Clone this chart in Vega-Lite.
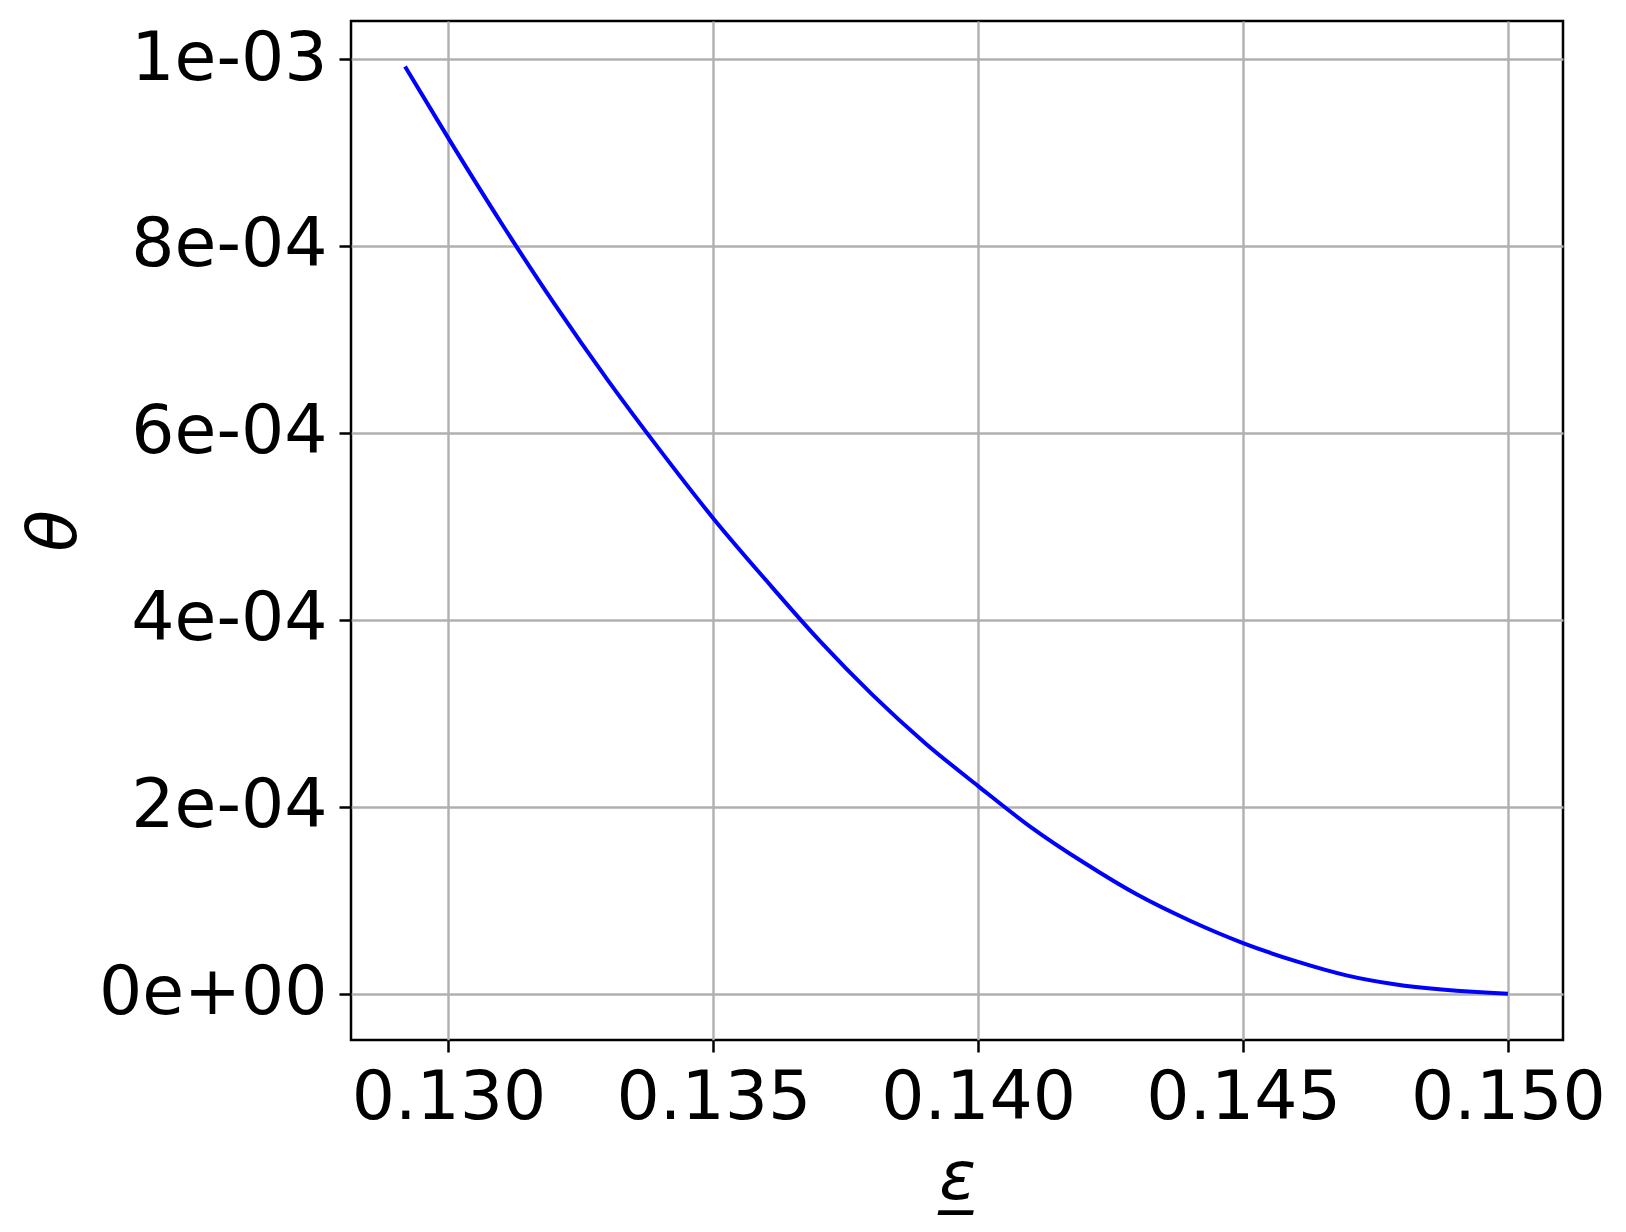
{
  "$schema": "https://vega.github.io/schema/vega-lite/v6.json",
  "autosize": "none",
  "width": 1212,
  "height": 1019,
  "padding": {"left": 351, "top": 21, "right": 63, "bottom": 192},
  "background": "white",
  "config": {
    "view": {"stroke": "black", "strokeWidth": 2.5},
    "axis": {
      "labelFont": "DejaVu Sans",
      "titleFont": "DejaVu Sans",
      "labelFontSize": 68,
      "titleFontSize": 68,
      "labelLimit": 0,
      "labelColor": "black",
      "titleColor": "black",
      "titleFontWeight": "normal",
      "grid": true,
      "gridColor": "#b0b0b0",
      "gridWidth": 2.4,
      "tickColor": "black",
      "tickWidth": 2.5,
      "tickSize": 12,
      "domain": false,
      "labelPadding": 12
    }
  },
  "data": {
    "values": [
      {"eps": 0.12918, "theta": 0.000992},
      {"eps": 0.13000, "theta": 0.0009151},
      {"eps": 0.13100, "theta": 0.0008243},
      {"eps": 0.13200, "theta": 0.000738},
      {"eps": 0.13300, "theta": 0.000657},
      {"eps": 0.13400, "theta": 0.000581},
      {"eps": 0.13500, "theta": 0.0005085},
      {"eps": 0.13600, "theta": 0.000442},
      {"eps": 0.13700, "theta": 0.000378},
      {"eps": 0.13800, "theta": 0.000320},
      {"eps": 0.13900, "theta": 0.000268},
      {"eps": 0.14000, "theta": 0.0002221},
      {"eps": 0.14100, "theta": 0.000178},
      {"eps": 0.14200, "theta": 0.000140},
      {"eps": 0.14300, "theta": 0.000106},
      {"eps": 0.14400, "theta": 0.000078},
      {"eps": 0.14500, "theta": 0.0000541},
      {"eps": 0.14601, "theta": 0.0000345},
      {"eps": 0.14695, "theta": 0.0000196},
      {"eps": 0.14786, "theta": 0.0000100},
      {"eps": 0.15000, "theta": 0.0}
    ]
  },
  "mark": {"type": "line", "color": "#0000ff", "strokeWidth": 4, "interpolate": "monotone", "clip": true},
  "encoding": {
    "x": {
      "field": "eps",
      "type": "quantitative",
      "scale": {"domain": [0.12816, 0.15104], "nice": false, "zero": false},
      "axis": {
        "values": [0.13, 0.135, 0.14, 0.145, 0.15],
        "format": ".3f",
        "title": "ε̲",
        "titleFontStyle": "italic",
        "titlePadding": 12
      }
    },
    "y": {
      "field": "theta",
      "type": "quantitative",
      "scale": {"domain": [-0.0000496, 0.0010407], "nice": false, "zero": false},
      "axis": {
        "values": [0, 0.0002, 0.0004, 0.0006, 0.0008, 0.001],
        "labelExpr": "datum.value == 0 ? '0e+00' : replace(format(datum.value, '.0e'), 'e-', 'e-0')",
        "title": "θ",
        "titleFontStyle": "italic",
        "titlePadding": 62
      }
    }
  }
}
